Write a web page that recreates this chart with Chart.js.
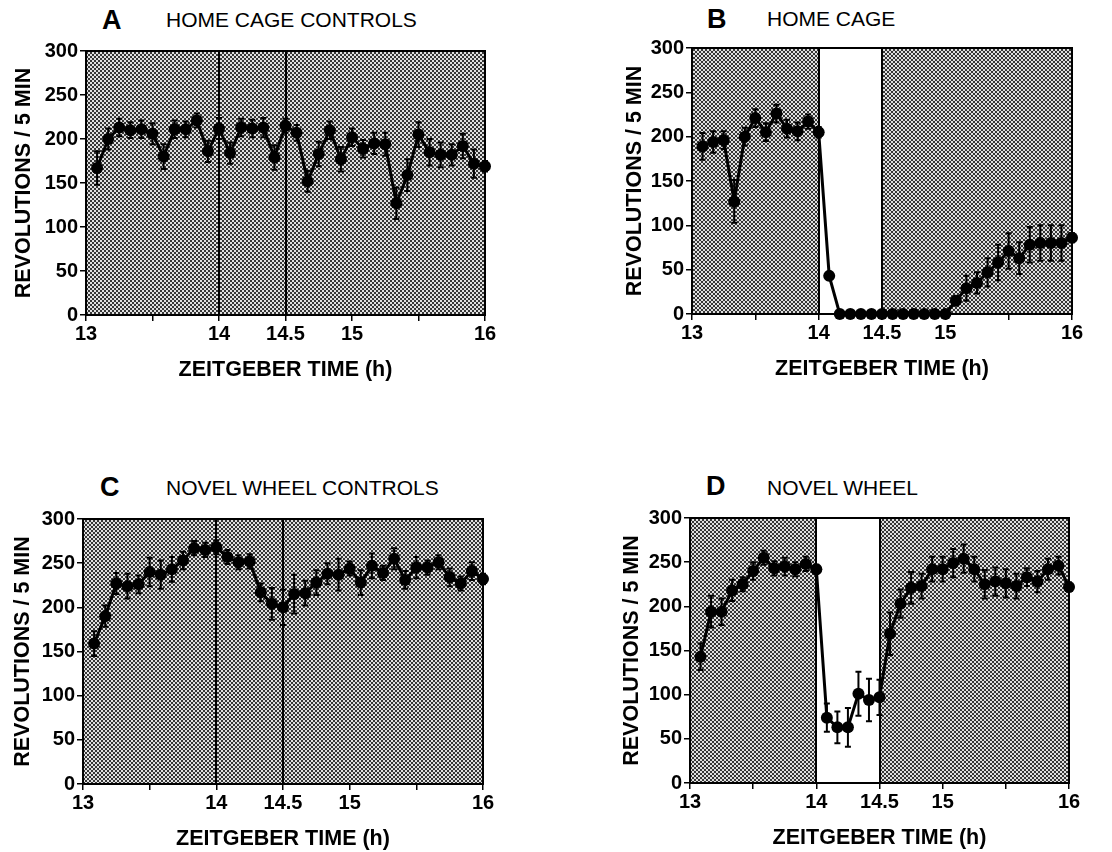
<!DOCTYPE html>
<html>
<head>
<meta charset="utf-8">
<script src="https://cdn.jsdelivr.net/npm/chart.js@4.4.0/dist/chart.umd.min.js"></script>
<style>
  body { margin: 0; background: #fff; width: 1112px; height: 852px; position: relative; overflow: hidden;
         font-family: "Liberation Sans", Arial, sans-serif; color: #000; }
  .letter { position: absolute; font-weight: bold; font-size: 27px; line-height: 1; }
  .name { position: absolute; font-size: 21px; line-height: 1; }
  canvas { position: absolute; }
</style>
</head>
<body>
<div class="letter" style="left:102px;top:7px">A</div>
<div class="name" style="left:166px;top:9px">HOME CAGE CONTROLS</div>
<div class="letter" style="left:707px;top:6px">B</div>
<div class="name" style="left:767px;top:8px">HOME CAGE</div>
<div class="letter" style="left:100px;top:474px">C</div>
<div class="name" style="left:166px;top:477px">NOVEL WHEEL CONTROLS</div>
<div class="letter" style="left:706px;top:473px">D</div>
<div class="name" style="left:767px;top:477px">NOVEL WHEEL</div>

<canvas id="chartA"></canvas>
<canvas id="chartB"></canvas>
<canvas id="chartC"></canvas>
<canvas id="chartD"></canvas>

<script>
// bins: minutes after ZT13 (5-min bins)
const binMinutes = [5, 10, 15, 20, 25, 30, 35, 40, 45, 50, 55, 60,
                    65, 70, 75, 80, 85, 90, 95, 100, 105, 110, 115, 120,
                    125, 130, 135, 140, 145, 150, 155, 160, 165, 170, 175, 180];
const xTicks = [13, 13.5, 14, 14.5, 15, 15.5, 16];
const xTickLabels = ['13', '', '14', '14.5', '15', '', '16'];
const pulseStart = 14;
const pulseEnd = 14.5;

// revolutions / 5 min (mean) and SEM
const homeCageControls = [167, 200, 213, 210, 211, 206, 180, 211, 211, 221, 186, 212,
                          184, 213, 212, 213, 179, 215, 207, 152, 183, 210, 177, 202,
                          189, 195, 194, 127, 159, 205, 185, 182, 182, 192, 172, 169];
const homeCageControlsSem = [19, 12, 10, 9, 10, 12, 14, 10, 9, 8, 12, 12,
                             12, 10, 10, 11, 14, 8, 9, 12, 14, 10, 14, 10,
                             10, 12, 13, 18, 18, 14, 15, 14, 12, 14, 16, 6];

const homeCage = [189, 194, 196, 127, 200, 221, 205, 226, 209, 206, 217, 205,
                  43, 0, 0, 0, 0, 0, 0, 0, 0, 0, 0, 0,
                  15, 29, 35, 47, 58, 71, 63, 78, 80, 80, 80, 86];
const homeCageSem = [15, 12, 10, 24, 10, 10, 10, 10, 10, 10, 8, 6,
                     4, 0, 0, 0, 0, 0, 0, 0, 0, 0, 0, 0,
                     5, 14, 12, 16, 20, 20, 18, 20, 20, 20, 20, 5];

const novelWheelControls = [159, 190, 227, 224, 226, 240, 237, 243, 253, 267, 265, 268,
                            257, 251, 252, 217, 204, 200, 215, 216, 228, 238, 237, 244,
                            228, 247, 239, 255, 231, 245, 245, 251, 234, 227, 241, 232];
const novelWheelControlsSem = [14, 12, 12, 14, 10, 16, 16, 14, 10, 8, 8, 8,
                               8, 8, 8, 10, 18, 20, 22, 14, 14, 12, 18, 8,
                               14, 14, 8, 12, 10, 12, 8, 8, 10, 8, 10, 6];

const novelWheel = [143, 194, 194, 218, 225, 240, 255, 243, 245, 242, 248, 242,
                    74, 63, 63, 101, 94, 97, 169, 203, 221, 223, 242, 242,
                    249, 254, 242, 225, 228, 226, 223, 233, 228, 242, 246, 222];
const novelWheelSem = [15, 18, 15, 12, 8, 10, 8, 8, 10, 8, 8, 5,
                       16, 18, 22, 25, 24, 20, 24, 16, 18, 14, 14, 14,
                       16, 16, 14, 16, 16, 16, 14, 10, 12, 12, 10, 5];

// checkerboard screen used for the dark phase
const hatchTile = document.createElement('canvas');
hatchTile.width = 4; hatchTile.height = 4;
(function () {
  const g = hatchTile.getContext('2d');
  g.fillStyle = '#e0e0e0'; g.fillRect(0, 0, 4, 4);
  g.fillStyle = '#363636'; g.fillRect(0, 0, 2, 2); g.fillRect(2, 2, 2, 2);
})();

const panelPlugin = {
  id: 'panelBackground',
  beforeDatasetsDraw(chart, args, opts) {
    const { ctx, chartArea: a, scales: { x, y } } = chart;
    const x1 = Math.round(x.getPixelForValue(pulseStart));
    const x2 = Math.round(x.getPixelForValue(pulseEnd));
    ctx.save();
    ctx.fillStyle = ctx.createPattern(hatchTile, 'repeat');
    ctx.fillRect(a.left, a.top, a.width, a.height);
    if (opts.lightPulse) {
      ctx.fillStyle = '#fff';
      ctx.fillRect(x1, a.top, x2 - x1, a.height);
    }
    ctx.strokeStyle = '#000';
    ctx.lineWidth = 2;
    ctx.beginPath();
    ctx.moveTo(x1, a.top); ctx.lineTo(x1, a.bottom);
    ctx.moveTo(x2, a.top); ctx.lineTo(x2, a.bottom);
    ctx.stroke();
    ctx.strokeRect(a.left, a.top, a.width, a.height);

    // SEM bars
    const sem = opts.sem || [];
    const ds = chart.data.datasets[0].data;
    ctx.lineWidth = 2;
    ds.forEach((p, i) => {
      if (!sem[i]) return;
      const px = x.getPixelForValue(p.x);
      const yTop = y.getPixelForValue(p.y + sem[i]);
      const yBot = y.getPixelForValue(Math.max(0, p.y - sem[i]));
      ctx.beginPath();
      ctx.moveTo(px, yTop); ctx.lineTo(px, yBot);
      ctx.moveTo(px - 3, yTop); ctx.lineTo(px + 3, yTop);
      ctx.moveTo(px - 3, yBot); ctx.lineTo(px + 3, yBot);
      ctx.stroke();
    });
    ctx.restore();
  }
};

function makePanel(id, values, sem, lightPulse, box) {
  const canvas = document.getElementById(id);
  const left = box.titleX - 22;
  const top = box.top - 15;
  const w = box.right + 25 - left;
  const h = box.bottom + 70 - top;
  canvas.width = w; canvas.height = h;
  canvas.style.left = left + 'px';
  canvas.style.top = top + 'px';

  const tickFont = { family: '"Liberation Sans", Arial, sans-serif', size: 20, weight: 'bold' };
  const titleFont = { family: '"Liberation Sans", Arial, sans-serif', size: 21.5, weight: 'bold', lineHeight: 1 };

  return new Chart(canvas, {
    type: 'line',
    data: {
      datasets: [{
        data: binMinutes.map((m, i) => ({ x: 13 + m / 60, y: values[i] })),
        borderColor: '#000',
        borderWidth: 3,
        backgroundColor: '#000',
        pointRadius: 6,
        pointBorderWidth: 0,
        tension: 0,
        clip: false
      }]
    },
    options: {
      responsive: false,
      animation: false,
      layout: { padding: { top: 15, right: 25, bottom: 0, left: 0 } },
      plugins: {
        legend: { display: false },
        tooltip: { enabled: false },
        panelBackground: { lightPulse: lightPulse, sem: sem }
      },
      scales: {
        x: {
          type: 'linear',
          min: 13, max: 16,
          afterFit: s => { s.height = 70; },
          afterBuildTicks: s => { s.ticks = xTicks.map(v => ({ value: v })); },
          ticks: {
            font: tickFont, color: '#000', padding: 1, maxRotation: 0, autoSkip: false,
            callback: v => xTickLabels[xTicks.indexOf(v)]
          },
          grid: { drawOnChartArea: false, drawTicks: true, tickLength: 6, color: '#000', lineWidth: 1.5 },
          border: { display: true, color: '#000', width: 2 },
          title: { display: true, text: 'ZEITGEBER TIME (h)', font: titleFont, color: '#000',
                   padding: { top: 0, bottom: 4 } }
        },
        y: {
          min: 0, max: 300,
          afterFit: s => { s.width = box.left - left; },
          ticks: { stepSize: 50, font: tickFont, color: '#000', padding: 2 },
          grid: { drawOnChartArea: false, drawTicks: true, tickLength: 6, color: '#000', lineWidth: 1.5 },
          border: { display: true, color: '#000', width: 2 },
          title: { display: true, text: 'REVOLUTIONS / 5 MIN', font: titleFont, color: '#000',
                   padding: { top: 11, bottom: 0 } }
        }
      }
    },
    plugins: [panelPlugin]
  });
}

makePanel('chartA', homeCageControls, homeCageControlsSem, false,
          { left: 86, right: 485, top: 51, bottom: 315, titleX: 24 });
makePanel('chartB', homeCage, homeCageSem, true,
          { left: 692, right: 1072, top: 48, bottom: 314, titleX: 635 });
makePanel('chartC', novelWheelControls, novelWheelControlsSem, false,
          { left: 83, right: 483, top: 519, bottom: 784, titleX: 23 });
makePanel('chartD', novelWheel, novelWheelSem, true,
          { left: 690, right: 1069, top: 518, bottom: 783, titleX: 632 });
</script>
</body>
</html>
